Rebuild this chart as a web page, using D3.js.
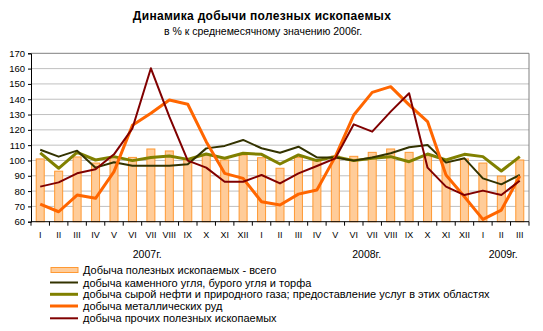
<!DOCTYPE html>
<html><head><meta charset="utf-8">
<script src="https://cdn.jsdelivr.net/npm/d3@7"></script>
<style>body{margin:0;background:#fff;font-family:Arial,"Liberation Sans",sans-serif;}</style>
</head><body><svg id="c" width="543" height="331"></svg>
<script>
const months = ["I","II","III","IV","V","VI","VII","VIII","IX","X","XI","XII",
                "I","II","III","IV","V","VI","VII","VIII","IX","X","XI","XII",
                "I","II","III"];
const yearLabels = ["2007г.","2008г.","2009г."];
const yearPos = [6.3, 18.2, 25.6];
const total = [101,93,102.3,98.3,102,102,107.5,106.2,101,103.6,100.3,103.6,
               101.8,94.9,102,99.9,102.9,102.7,105.3,107.5,105.3,103.1,99.2,101,
               98.3,89.8,100.3];
const coal = [107,102.5,106.4,95.3,98.8,96.6,96.6,96.6,97.5,107.9,109.5,113.4,
              108,105,109,102,102,99.9,102,104.7,108.6,110.1,98.6,101.4,
              88.3,84.4,90.5];
const oil = [105,94.9,105.3,100.3,102.5,99.9,102,102.9,100.7,104.2,101.4,104.7,
             104,97.7,103.6,99.9,102.5,99.9,101.4,102.5,99.2,104.2,100.3,104,
             102.5,93.1,102.5];
const metal = [71.5,66.5,77.4,75.3,92.7,123,130.8,139.5,136.7,112.3,91.6,88.3,
               73,70.9,78,80.7,102.5,129.7,144.5,148.2,136.3,125.4,90.5,76.3,
               61.5,67.6,89.8];
const other = [82.9,85.7,91.6,94.2,104,121,160.2,128.6,99.9,95.3,86.1,86.1,
               90.5,85,91.6,96.4,101.4,123.6,118.8,131.9,143.9,95.3,82.9,77.4,
               80.3,77.4,86.8];
const yTicks = [60,70,80,90,100,110,120,130,140,150,160,170];
const legendLabels = ["Добыча полезных ископаемых - всего",
  "добыча каменного угля, бурого угля и торфа",
  "добыча сырой нефти и природного газа; предоставление услуг в этих областях",
  "добыча металлических руд",
  "добыча прочих полезных ископаемых"];

const svg = d3.select("#c");
const L=31, R=529, T=53.3, B=221.7;
const idx = d3.range(months.length);
const x = d3.scaleBand().domain(idx).range([L,R]);
const y = d3.scaleLinear().domain([60,170]).range([B,T]);

// title
svg.append("text").attr("x",262).attr("y",20).attr("text-anchor","middle")
  .attr("font-size",12).attr("font-weight","bold").attr("letter-spacing",0.3).text("Динамика добычи полезных ископаемых");
svg.append("text").attr("x",263).attr("y",35).attr("text-anchor","middle")
  .attr("font-size",10.5).text("в % к среднемесячному значению 2006г.");

// grid
svg.append("g").selectAll("line").data(yTicks.slice(1,-1)).join("line")
  .attr("x1",L).attr("x2",R).attr("y1",d=>y(d)).attr("y2",d=>y(d))
  .attr("stroke","#c0c0c0").attr("stroke-width",1);
svg.append("line").attr("x1",L).attr("x2",R).attr("y1",y(170)).attr("y2",y(170)).attr("stroke","#808080");
svg.append("line").attr("x1",R).attr("x2",R).attr("y1",y(170)).attr("y2",y(60)).attr("stroke","#808080");

// bars
const bw = 8;
svg.append("g").selectAll("rect").data(total).join("rect")
  .attr("x",(d,i)=>x(i)+x.bandwidth()/2-bw/2).attr("width",bw)
  .attr("y",d=>y(d)).attr("height",d=>y(60)-y(d))
  .attr("fill","#ffcc99").attr("stroke","#ff9933").attr("stroke-width",1);

// lines
const line = d3.line().x((d,i)=>x(i)+x.bandwidth()/2).y(d=>y(d));
const series = [
  {data:oil,color:"#808000",w:3},
  {data:coal,color:"#333300",w:2},
  {data:metal,color:"#ff6600",w:3},
  {data:other,color:"#800000",w:2}];
series.forEach(s=>svg.append("path").datum(s.data).attr("d",line)
  .attr("fill","none").attr("stroke",s.color).attr("stroke-width",s.w).attr("stroke-linejoin","round"));

// y axis
const ya = svg.append("g").attr("transform",`translate(${L},0)`)
  .call(d3.axisLeft(y).tickValues(yTicks).tickSize(3).tickFormat(d3.format("d")));
ya.select(".domain").attr("stroke","#000");
ya.selectAll("text").attr("font-size",9.5).attr("font-family","Arial,'Liberation Sans',sans-serif").attr("fill","#000");

// x axis
const xa = svg.append("g").attr("transform",`translate(0,${B})`);
xa.append("line").attr("x1",L).attr("x2",R).attr("stroke","#000");
xa.selectAll("line.t").data(d3.range(months.length+1)).join("line").attr("class","t")
  .attr("x1",d=>L+d*x.step()).attr("x2",d=>L+d*x.step()).attr("y1",0).attr("y2",4).attr("stroke","#000");
xa.selectAll("text").data(months).join("text")
  .attr("x",(d,i)=>x(i)+x.bandwidth()/2).attr("y",16).attr("text-anchor","middle")
  .attr("font-size",9).text(d=>d);
svg.selectAll("text.yr").data(yearLabels).join("text").attr("class","yr")
  .attr("x",(d,i)=>L+yearPos[i]*x.step()).attr("y",258).attr("text-anchor","middle")
  .attr("font-size",10.5).text(d=>d);

// legend
const lg = svg.append("g");
const rows = [270,282.5,294.3,306,318.3];
legendLabels.forEach((t,i)=>{
  if(i==0){
    lg.append("rect").attr("x",51).attr("y",rows[i]-2.5).attr("width",27).attr("height",5)
      .attr("fill","#ffcc99").attr("stroke","#ff9933");
  } else {
    const s = [null,series[1],series[0],series[2],series[3]][i];
    lg.append("line").attr("x1",50).attr("x2",78).attr("y1",rows[i]).attr("y2",rows[i])
      .attr("stroke",s.color).attr("stroke-width",s.w);
  }
  lg.append("text").attr("x",83).attr("y",rows[i]+4).attr("font-size",11).text(t);
});
</script></body></html>
